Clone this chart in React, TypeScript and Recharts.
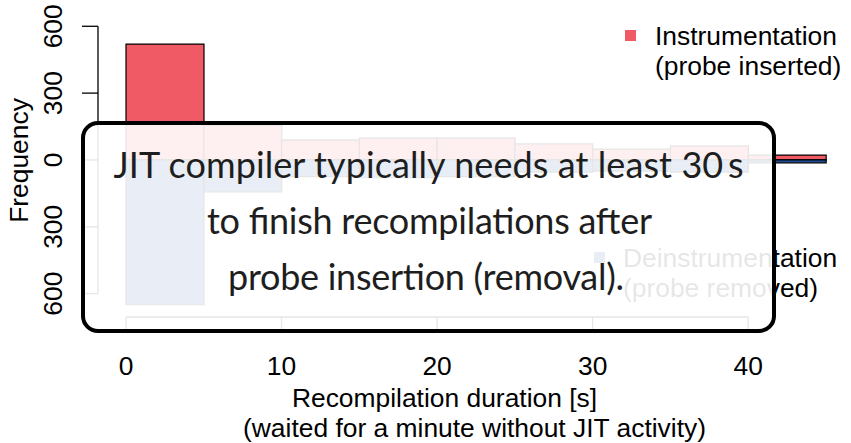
import React from 'react';
import { BarChart, Bar, XAxis, YAxis, ReferenceLine, Legend } from 'recharts';

// ---- data ----
const binStarts = [0, 5, 10, 15, 20, 25, 30, 35, 40];
const binWidth = 5;
const instrumentation = [520, 157, 90, 98, 98, 72, 49, 63, 22];
const deinstrumentation = [650, 143, 75, 80, 75, 55, 50, 55, 13];
const xTicks = [0, 10, 20, 30, 40];
const yTicks = [-600, -300, 0, 300, 600];
const xDomain = [-1.8, 46.61];
const yDomain = [-705, 700];
const seriesNames = ['Instrumentation', 'Deinstrumentation'];
const seriesSubs = ['(probe inserted)', '(probe removed)'];
const annotationLines = [
  'JIT compiler typically needs at least 30\u2009s',
  'to finish recompilations after',
  'probe insertion (removal).',
];
const xLabelLines = ['Recompilation duration [s]', '(waited for a minute without JIT activity)'];
const yLabel = 'Frequency';

const RED = '#EF5A64';
const BLUE = '#1F4E9A';
const AXIS_FONT = '"Liberation Sans", Arial, Helvetica, sans-serif';
const BOX_FONT = 'Lato, "Open Sans", sans-serif';
const FS = 26.4;

const data = binStarts.map((s, i) => ({
  mid: s + binWidth / 2,
  inst: instrumentation[i],
  deinst: -deinstrumentation[i],
}));

const XTick = (props: any) => {
  const { x, y, payload } = props;
  return (
    <text x={x} y={y} textAnchor="middle" fontFamily={AXIS_FONT} fontSize={FS} fill="#000">
      {payload.value}
    </text>
  );
};

const YTick = (props: any) => {
  const { x, y, payload } = props;
  return (
    <text
      x={x}
      y={y}
      transform={`rotate(-90 ${x} ${y})`}
      textAnchor="middle"
      fontFamily={AXIS_FONT}
      fontSize={FS}
      fill="#000"
    >
      {Math.abs(payload.value)}
    </text>
  );
};

const XLabel = (props: any) => {
  const vb = props.viewBox || {};
  const cx2 = vb.x + vb.width / 2;
  const cx1 = cx2 - 30;
  return (
    <g>
      <text x={cx1} y={vb.y + 89.5} textAnchor="middle" fontFamily={AXIS_FONT} fontSize={FS} fill="#000">
        {xLabelLines[0]}
      </text>
      <text x={cx2} y={vb.y + 120} textAnchor="middle" fontFamily={AXIS_FONT} fontSize={FS} fill="#000">
        {xLabelLines[1]}
      </text>
    </g>
  );
};

const YLabel = (props: any) => {
  const vb = props.viewBox || {};
  const cy = vb.y + vb.height / 2;
  const x = 28;
  return (
    <text
      x={x}
      y={cy}
      transform={`rotate(-90 ${x} ${cy})`}
      textAnchor="middle"
      fontFamily={AXIS_FONT}
      fontSize={FS}
      fill="#000"
    >
      {yLabel}
    </text>
  );
};

const legendSpots = [
  { sq: [625, 30], tx: 655, by: 45 },
  { sq: [594, 252], tx: 623, by: 267 },
];

const LegendContent = (props: any) => {
  const payload = props.payload || [];
  return (
    <svg width={851} height={443} style={{ position: 'absolute', left: 0, top: 0 }}>
      {payload.map((p: any) => {
        const i = seriesNames.indexOf(p.value);
        const s = legendSpots[i];
        if (!s) return null;
        return (
          <g key={p.value}>
            <rect x={s.sq[0]} y={s.sq[1]} width={11} height={11} fill={p.color} />
            <text x={s.tx} y={s.by} fontFamily={AXIS_FONT} fontSize={FS} fill="#000">
              {p.value}
            </text>
            <text x={s.tx} y={s.by + 30} fontFamily={AXIS_FONT} fontSize={FS} fill="#000">
              {seriesSubs[i]}
            </text>
          </g>
        );
      })}
    </svg>
  );
};

export default function App() {
  return (
    <div style={{ position: 'absolute', left: 0, top: 0, width: 851, height: 443, background: '#fff' }}>
      <BarChart
        width={851}
        height={443}
        data={data}
        margin={{ top: 4, right: 0, bottom: 0, left: 0 }}
        stackOffset="sign"
        barCategoryGap={0}
        barGap={0}
      >
        <XAxis
          type="number"
          dataKey="mid"
          domain={xDomain}
          ticks={xTicks}
          allowDataOverflow
          interval={0}
          height={126}
          axisLine={false}
          tickLine={{ stroke: '#000', strokeWidth: 1.3 }}
          tickSize={16}
          tickMargin={42}
          tick={<XTick />}
          label={{ content: <XLabel /> }}
        />
        <YAxis
          type="number"
          domain={yDomain}
          ticks={yTicks}
          allowDataOverflow
          interval={0}
          width={98}
          axisLine={false}
          tickLine={{ stroke: '#000', strokeWidth: 1.3 }}
          tickSize={16}
          tickMargin={19.5}
          tick={<YTick />}
          label={{ content: <YLabel /> }}
        />
        <ReferenceLine
          segment={[
            { x: xDomain[0], y: yTicks[0] },
            { x: xDomain[0], y: yTicks[yTicks.length - 1] },
          ]}
          stroke="#000"
          strokeWidth={1.3}
          ifOverflow="visible"
        />
        <ReferenceLine
          segment={[
            { x: xTicks[0], y: yDomain[0] },
            { x: xTicks[xTicks.length - 1], y: yDomain[0] },
          ]}
          stroke="#000"
          strokeWidth={1.3}
          ifOverflow="visible"
        />
        <Bar
          dataKey="inst"
          name={seriesNames[0]}
          stackId="h"
          fill={RED}
          stroke="#000"
          strokeWidth={1.2}
          isAnimationActive={false}
        />
        <Bar
          dataKey="deinst"
          name={seriesNames[1]}
          stackId="h"
          fill={BLUE}
          stroke="#000"
          strokeWidth={1.2}
          isAnimationActive={false}
        />
        <Legend
          layout="horizontal"
          verticalAlign="middle"
          align="center"
          content={<LegendContent />}
          wrapperStyle={{ left: 0, top: 0, width: 851, height: 443 }}
        />
      </BarChart>
      <svg width={851} height={443} style={{ position: 'absolute', left: 0, top: 0, zIndex: 10 }}>
        <rect x={83} y={123} width={691} height={208} rx={15} ry={15} fill="#fff" fillOpacity={0.9} stroke="#000" strokeWidth={4} />
        <g fontFamily={BOX_FONT} fontSize={36} fontWeight={400} fill="#1e1e1e" textAnchor="middle">
          <text x={428.5} y={178} textLength={630} lengthAdjust="spacing">
            {annotationLines[0]}
          </text>
          <text x={429.5} y={234} textLength={445} lengthAdjust="spacing">
            {annotationLines[1]}
          </text>
          <text x={426} y={290} textLength={396} lengthAdjust="spacing">
            {annotationLines[2]}
          </text>
        </g>
      </svg>
    </div>
  );
}
